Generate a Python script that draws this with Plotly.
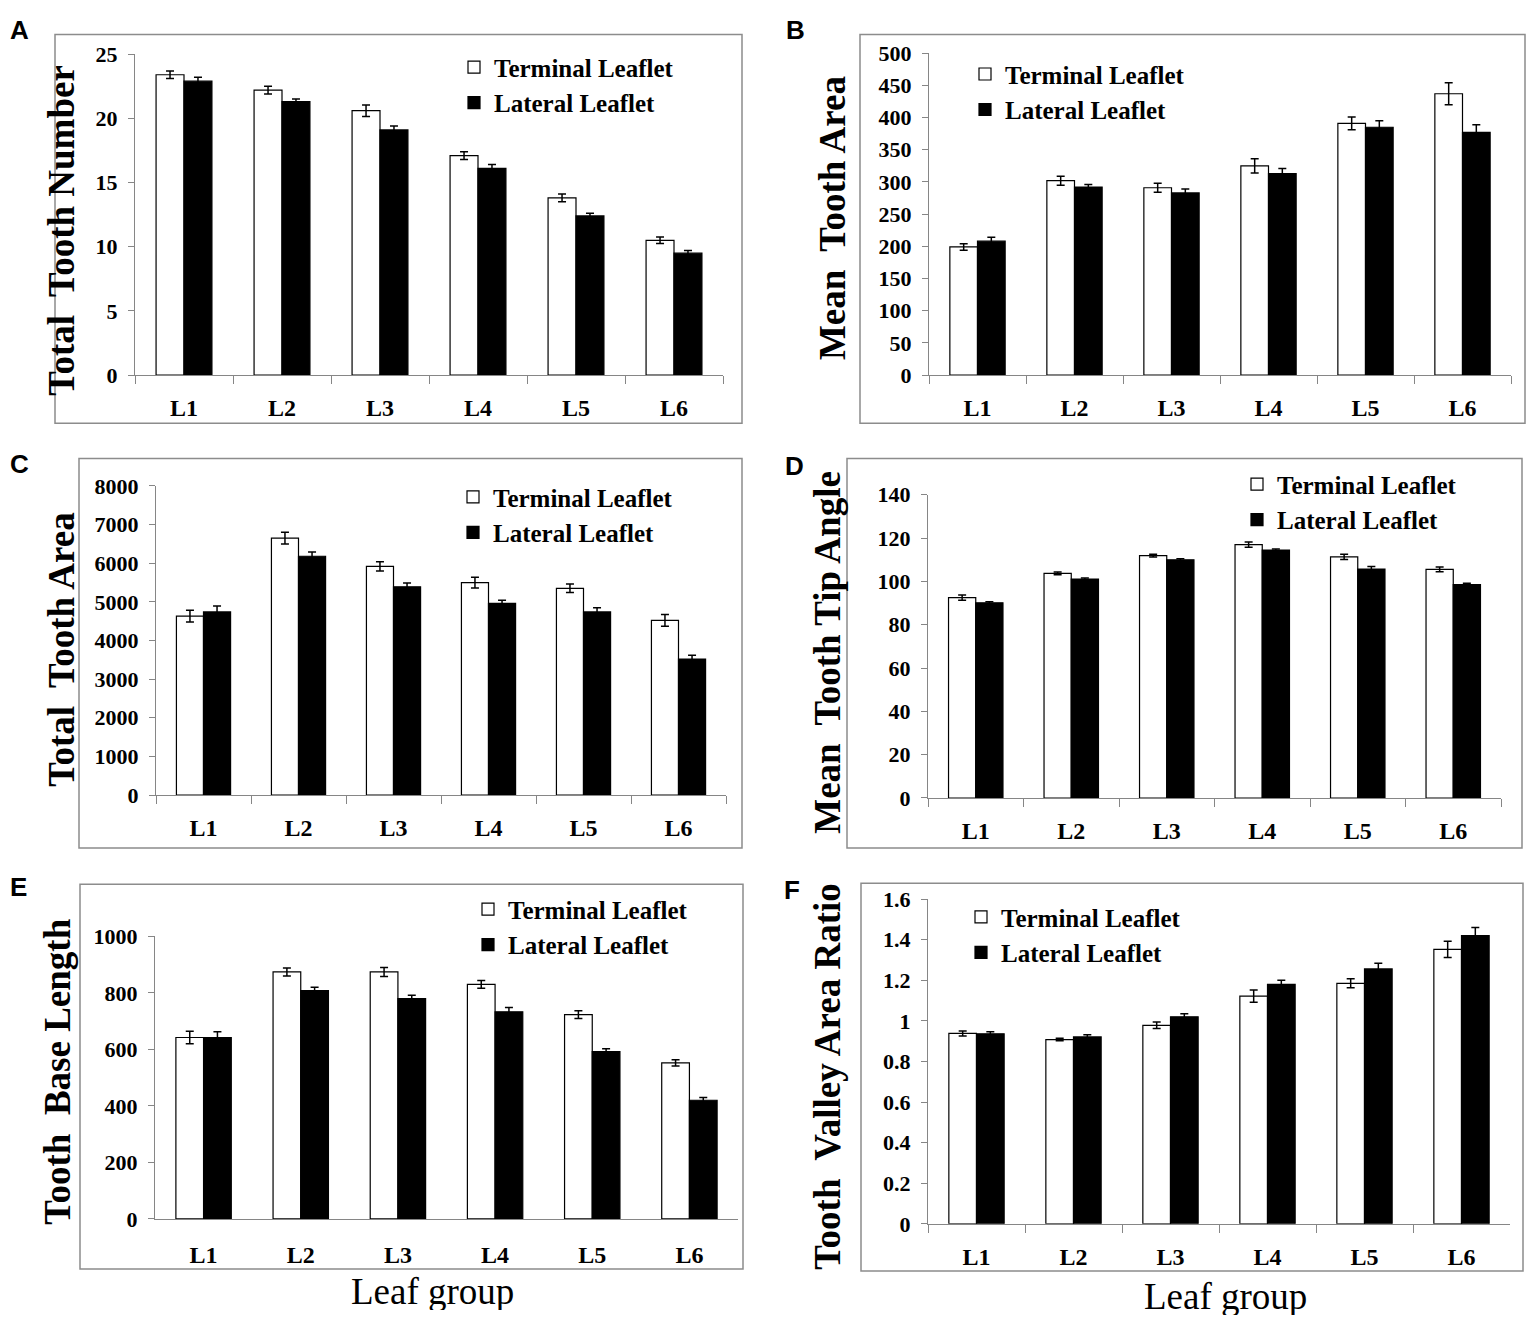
import plotly.graph_objects as go

W, H = 1532, 1334

groups = ["L1", "L2", "L3", "L4", "L5", "L6"]
series_names = ["Terminal Leaflet", "Lateral Leaflet"]

# Panel A: Total Tooth Number
a_term = [23.4, 22.2, 20.6, 17.1, 13.8, 10.5]
a_term_err = [0.3, 0.3, 0.45, 0.3, 0.3, 0.25]
a_lat = [22.9, 21.3, 19.1, 16.1, 12.4, 9.5]
a_lat_err = [0.3, 0.2, 0.3, 0.3, 0.2, 0.2]

# Panel B: Mean Tooth Area
b_term = [199, 302, 291, 325, 391, 437]
b_term_err = [5, 7, 7, 11, 10, 17]
b_lat = [208, 292, 283, 313, 385, 377]
b_lat_err = [6, 4, 6, 8, 10, 12]

# Panel C: Total Tooth Area
c_term = [4630, 6650, 5920, 5500, 5350, 4520]
c_term_err = [150, 150, 120, 140, 110, 150]
c_lat = [4740, 6180, 5390, 4960, 4740, 3520]
c_lat_err = [150, 110, 100, 80, 110, 100]

# Panel D: Mean Tooth Tip Angle
d_term = [92.5, 103.7, 111.9, 117.0, 111.3, 105.6]
d_term_err = [1.2, 0.6, 0.6, 1.2, 1.2, 1.1]
d_lat = [90.1, 101.1, 110.0, 114.5, 105.7, 98.5]
d_lat_err = [0.5, 0.5, 0.5, 0.5, 1.2, 0.6]

# Panel E: Tooth Base Length
e_term = [642, 874, 874, 830, 723, 552]
e_term_err = [22, 14, 16, 14, 14, 11]
e_lat = [642, 808, 780, 733, 592, 420]
e_lat_err = [20, 12, 12, 15, 10, 10]

# Panel F: Tooth Valley Area Ratio
f_term = [0.938, 0.908, 0.978, 1.122, 1.185, 1.352]
f_term_err = [0.012, 0.006, 0.016, 0.03, 0.022, 0.04]
f_lat = [0.936, 0.921, 1.020, 1.180, 1.256, 1.420]
f_lat_err = [0.01, 0.01, 0.015, 0.02, 0.028, 0.04]

panel_letters = ["A", "B", "C", "D", "E", "F"]
y_titles = ["Total  Tooth Number", "Mean  Tooth Area", "Total  Tooth Area",
            "Mean  Tooth Tip Angle", "Tooth  Base Length", "Tooth  Valley Area Ratio"]
y_max = [25, 500, 8000, 140, 1000, 1.6]
y_dtick = [5, 50, 1000, 20, 200, 0.2]
x_title = "Leaf group"

data = [
    (a_term, a_term_err, a_lat, a_lat_err),
    (b_term, b_term_err, b_lat, b_lat_err),
    (c_term, c_term_err, c_lat, c_lat_err),
    (d_term, d_term_err, d_lat, d_lat_err),
    (e_term, e_term_err, e_lat, e_lat_err),
    (f_term, f_term_err, f_lat, f_lat_err),
]

# layout geometry in pixels
plot_px = [  # x0, x1, ytop, ybottom
    (135, 723, 43, 370),
    (929, 1511, 42, 370),
    (156, 726, 483, 798),
    (928, 1501, 492, 801),
    (155, 738, 942, 1230),
    (928, 1510, 904, 1235),
]
frame_px = [
    (55, 23, 742, 419),
    (860, 23, 1525, 419),
    (79, 455, 742, 852),
    (847, 455, 1522, 852),
    (80, 889, 743, 1281),
    (861, 888, 1523, 1283),
]
letter_px = [(8, 18), (784, 18), (8, 461), (783, 463), (8, 892), (782, 895)]
ytitle_px = [(62, 223), (832, 210), (62, 650), (828, 653), (58, 1080), (828, 1085)]
legend_px = [(454, 33), (965, 40), (453, 471), (1237, 458), (468, 891), (961, 899)]
xtitle_px = [(432, 1303), (1225, 1309)]


def fx(x):
    return x / W


def fy(y):
    return 1 - y / H


SERIF = "Liberation Serif"
GRAY = "#868686"
fig = go.Figure()
layout = dict(
    width=W, height=H, margin=dict(l=0, r=0, t=0, b=0),
    paper_bgcolor="white", plot_bgcolor="white",
    barmode="group", bargap=0.43, bargroupgap=0,
    shapes=[], annotations=[], showlegend=True,
)

for i in range(6):
    n = "" if i == 0 else str(i + 1)
    xa, ya = "x" + n, "y" + n
    leg = "legend" + n
    term, term_err, lat, lat_err = data[i]
    fig.add_trace(go.Bar(
        x=groups, y=term, name=series_names[0], xaxis=xa, yaxis=ya, legend=leg,
        marker=dict(color="white", line=dict(color="black", width=1.2)),
        error_y=dict(type="data", array=term_err, color="black", thickness=1.5, width=4),
    ))
    fig.add_trace(go.Bar(
        x=groups, y=lat, name=series_names[1], xaxis=xa, yaxis=ya, legend=leg,
        marker=dict(color="black", line=dict(color="black", width=1.2)),
        error_y=dict(type="data", array=lat_err, color="black", thickness=1.5, width=4),
    ))
    x0, x1, yt, yb = plot_px[i]
    no_xticks = (i == 4)
    layout["xaxis" + n] = dict(
        domain=[fx(x0), fx(x1)], anchor=ya, type="category",
        range=[-0.5, 5.5], showline=True, linecolor=GRAY, linewidth=1,
        ticks="" if no_xticks else "outside", tickson="boundaries",
        ticklen=8, tickcolor=GRAY, tickwidth=1,
        ticklabelstandoff=14 if no_xticks else 11,
        tickfont=dict(family=SERIF, size=24, color="black", weight="bold"),
        showgrid=False, zeroline=False, fixedrange=True,
    )
    layout["yaxis" + n] = dict(
        domain=[fy(yb), fy(yt)], anchor=xa, range=[0, y_max[i]],
        dtick=y_dtick[i], tick0=0, tickformat="d" if i == 2 else None,
        showline=True, linecolor=GRAY, linewidth=1,
        ticks="outside", ticklen=6, tickcolor=GRAY, tickwidth=1,
        ticklabelstandoff=6,
        tickfont=dict(family=SERIF, size=22, color="black", weight="bold"),
        showgrid=False, zeroline=False, fixedrange=True,
    )
    lx, ly = legend_px[i]
    layout[leg] = dict(
        x=fx(lx), y=fy(ly), xanchor="left", yanchor="top",
        bgcolor="rgba(0,0,0,0)", borderwidth=0,
        font=dict(family=SERIF, size=25, color="black", weight="bold"),
        itemwidth=30, tracegroupgap=0,
    )
    fl, ft, fr, fb = frame_px[i]
    layout["shapes"].append(dict(
        type="rect", xref="paper", yref="paper",
        x0=fx(fl), x1=fx(fr), y0=fy(fb), y1=fy(ft),
        line=dict(color="#8c8c8c", width=1.5), fillcolor="rgba(0,0,0,0)", layer="below",
    ))
    px_, py_ = letter_px[i]
    layout["annotations"].append(dict(
        text=panel_letters[i], xref="paper", yref="paper",
        x=fx(px_), y=fy(py_), xanchor="left", yanchor="middle", showarrow=False,
        font=dict(family="Liberation Sans", size=26, color="black", weight="bold"),
    ))
    tx, ty = ytitle_px[i]
    layout["annotations"].append(dict(
        text=y_titles[i], xref="paper", yref="paper",
        x=fx(tx), y=fy(ty), xanchor="center", yanchor="middle", showarrow=False,
        textangle=-90,
        font=dict(family=SERIF, size=37, color="black", weight="bold"),
    ))

for (tx, ty) in xtitle_px:
    layout["annotations"].append(dict(
        text=x_title, xref="paper", yref="paper",
        x=fx(tx), y=fy(ty), xanchor="center", yanchor="middle", showarrow=False,
        height=38, valign="middle",
        font=dict(family=SERIF, size=37, color="black"),
    ))

fig.update_layout(**layout)
fig.write_html(
    "out.html",
    config={"displayModeBar": False},
    post_script=(
        "document.documentElement.style.margin='0';"
        "document.body.style.margin='0';"
        "document.body.style.overflow='hidden';"
        "var d=document.getElementById('{plot_id}');"
        "d.style.position='fixed';d.style.top='0px';d.style.left='0px';"
    ),
)
